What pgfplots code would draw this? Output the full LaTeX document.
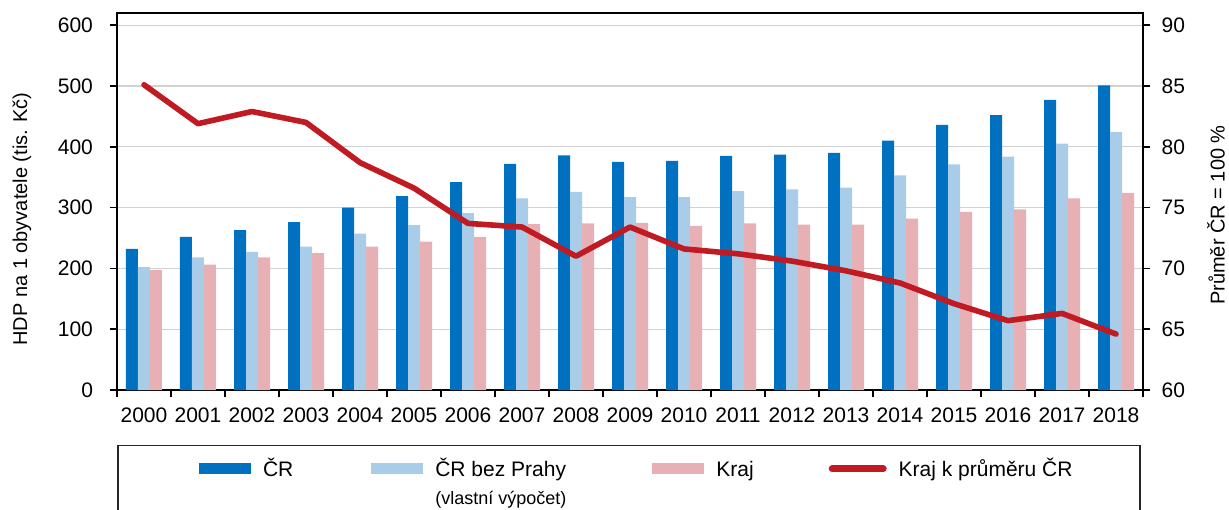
\documentclass[border=0pt]{standalone}
\usepackage{fontspec}
\setmainfont{Liberation Sans}
\usepackage{pgfplots}
\usepackage{pgfplotstable}
\pgfplotsset{compat=1.18}

\definecolor{cblue}{RGB}{0,112,192}
\definecolor{clight}{RGB}{169,205,232}
\definecolor{cpink}{RGB}{230,176,180}
\definecolor{cred}{RGB}{192,26,34}
\definecolor{cgrid}{RGB}{210,210,210}

% rok (0 = 2000), HDP na obyvatele: CR, CR bez Prahy, kraj; kraj k prumeru CR (%)
\pgfplotstableread{
x  cr  bez  kraj  pomer
0  232 202  197   85.1
1  252 218  206   81.9
2  263 227  218   82.9
3  276 236  225   82.0
4  300 257  236   78.7
5  319 271  244   76.6
6  342 291  252   73.7
7  372 315  273   73.4
8  386 326  274   71.0
9  375 317  275   73.4
10 377 317  270   71.6
11 385 327  274   71.2
12 387 330  272   70.6
13 390 333  272   69.8
14 410 353  282   68.8
15 436 371  293   67.1
16 452 384  297   65.7
17 477 405  315   66.3
18 501 424  324   64.6
}\hdp

\pgfplotsset{
  base/.style={
    scale only axis, width=513pt, height=188.5pt,
    xmin=-0.5, xmax=18.5, enlargelimits=false,
    tick label style={font=\fontsize{10.5}{12}\selectfont},
    label style={font=\fontsize{10.5}{12}\selectfont},
    /pgf/number format/assume math mode=true,
    tick align=outside, major tick length=3.5pt, minor tick length=3.5pt,
    axis line style={line width=0.75pt},
    every tick/.style={black, line width=0.75pt},
  },
  barleg/.style={legend image code/.code={\fill[##1] (0pt,1pt) rectangle (26pt,6.5pt);}},
  linleg/.style={legend image code/.code={\draw[##1] (1.75pt,3.75pt) -- (27.25pt,3.75pt);}},
}

\begin{document}
\begin{tikzpicture}
\begin{axis}[base,
  ymin=0, ymax=620, ytick={0,100,...,600}, ytick pos=left,
  ymajorgrids, grid style={cgrid, line width=0.6pt},
  xtick={0,...,18},
  xticklabels={2000,2001,2002,2003,2004,2005,2006,2007,2008,2009,2010,2011,2012,2013,2014,2015,2016,2017,2018},
  minor xtick={-0.5,0.5,...,18.5},
  major x tick style={draw=none},
  xtick pos=bottom,
  xticklabel style={yshift=-2pt},
  yticklabel style={xshift=-5pt},
  ybar=0pt, bar width=6pt,
  ylabel={HDP na 1 obyvatele (tis. Kč)},
  every axis y label/.style={at={(axis description cs:-0.0926,0.4536)}, rotate=90, anchor=center},
  legend columns=4,
  legend style={at={(0,0)}, anchor=north west, xshift=41pt, yshift=-32pt,
    draw=none, fill=none, inner sep=0pt, outer sep=0pt,
    font=\fontsize{10.5}{12.6}\selectfont,
    cells={anchor=base west, inner sep=0pt}, row sep=1.7pt,
    /tikz/every odd column/.append style={column sep=4pt},
    /tikz/column 2/.append style={column sep=37pt},
    /tikz/column 4/.append style={column sep=41pt},
    /tikz/column 6/.append style={column sep=35.5pt}},
]
\addplot[fill=cblue, draw=none, barleg] table[x=x, y=cr] {\hdp};
\addlegendentry{ČR}
\addplot[fill=clight, draw=none, barleg] table[x=x, y=bez] {\hdp};
\addlegendentry{ČR bez Prahy}
\addplot[fill=cpink, draw=none, barleg] table[x=x, y=kraj] {\hdp};
\addlegendentry{Kraj}
\addlegendimage{cred, line width=3.5pt, line cap=round, linleg}
\addlegendentry{Kraj k průměru ČR}
\addlegendimage{empty legend}
\addlegendentry{\mbox{}}
\addlegendimage{empty legend}
\addlegendentry{\fontsize{9}{10.8}\selectfont(vlastní výpočet)}
\addlegendimage{empty legend}
\addlegendentry{\mbox{}}
\addlegendimage{empty legend}
\addlegendentry{\mbox{}}
\end{axis}

\begin{axis}[base,
  ymin=60, ymax=91, ytick={60,65,...,90},
  axis y line*=right, hide x axis,
  yticklabel style={xshift=2.3pt},
  ylabel={Průměr ČR = 100 \%},
  every axis y label/.style={at={(axis description cs:1.0712,0.464)}, rotate=90, anchor=center},
]
\addplot[cred, line width=2.8pt, line cap=round, line join=round, mark=none] table[x=x, y=pomer] {\hdp};
\end{axis}

\draw[line width=0.6pt, black!85] (0.5pt,-27.75pt) rectangle (511.5pt,-75pt);
\pgfresetboundingbox
\path[use as bounding box] (-58.5pt,-59.5pt) rectangle (556pt,195pt);
\end{tikzpicture}
\end{document}
